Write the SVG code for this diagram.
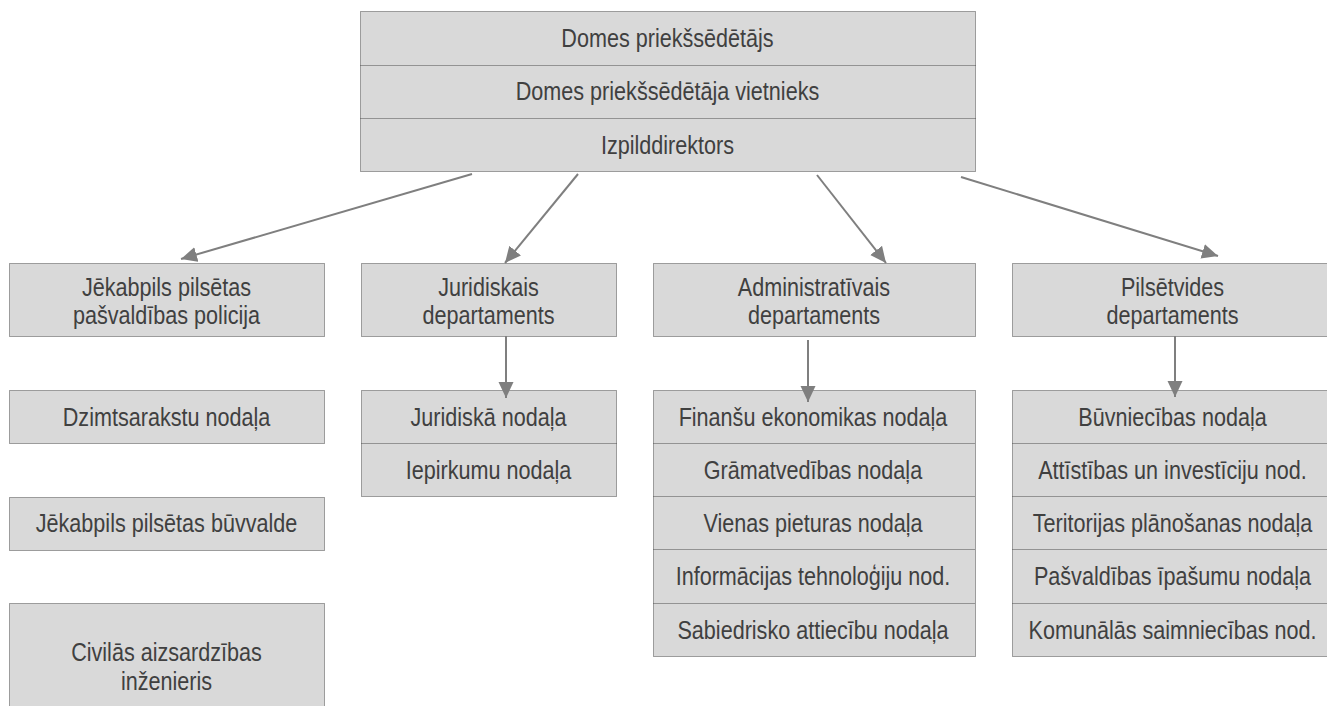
<svg xmlns="http://www.w3.org/2000/svg" width="1327" height="706" viewBox="0 0 1327 706">
<style>
.box{fill:#d9d9d9;stroke:#4d4d4d;stroke-width:1;stroke-dasharray:1 1}
.sep{stroke:#4d4d4d;stroke-width:1;stroke-dasharray:1 1;fill:none}
.t{font-family:"Liberation Sans",Arial,sans-serif;font-size:25.5px;fill:#404040;text-anchor:middle}
.c{stroke:#7f7f7f;stroke-width:2;fill:none;marker-end:url(#ah)}
</style>
<defs>
<marker id="ah" markerUnits="userSpaceOnUse" markerWidth="18" markerHeight="16" refX="16" refY="7.5" orient="auto" viewBox="0 0 18 16">
<path d="M0,0 L16,7.5 L0,15 z" fill="#7f7f7f"/>
</marker>
</defs>
<rect width="1327" height="706" fill="#fff"/>

<g id="top">
<rect class="box" x="360.5" y="11.5" width="615" height="160"/>
<line class="sep" x1="360.5" y1="65.5" x2="975.5" y2="65.5"/>
<line class="sep" x1="360.5" y1="118.5" x2="975.5" y2="118.5"/>
<text class="t" transform="translate(667.5,47) scale(0.847,1)">Domes priekšsēdētājs</text>
<text class="t" transform="translate(667.5,100) scale(0.847,1)">Domes priekšsēdētāja vietnieks</text>
<text class="t" transform="translate(667.5,154) scale(0.847,1)">Izpilddirektors</text>
</g>

<g id="policija">
<rect class="box" x="9.5" y="263.5" width="315" height="73"/>
<text class="t" transform="translate(166.5,296) scale(0.847,1)">Jēkabpils pilsētas</text>
<text class="t" transform="translate(166.5,324) scale(0.847,1)">pašvaldības policija</text>
</g>

<g id="juridiskais">
<rect class="box" x="361.5" y="263.5" width="255" height="73"/>
<text class="t" transform="translate(488.5,296) scale(0.847,1)">Juridiskais</text>
<text class="t" transform="translate(488.5,324) scale(0.847,1)">departaments</text>
</g>

<g id="administrativais">
<rect class="box" x="653.5" y="263.5" width="322" height="73"/>
<text class="t" transform="translate(814,296) scale(0.847,1)">Administratīvais</text>
<text class="t" transform="translate(814,324) scale(0.847,1)">departaments</text>
</g>

<g id="pilsetvides">
<rect class="box" x="1012.5" y="263.5" width="321" height="73"/>
<text class="t" transform="translate(1172.5,296) scale(0.847,1)">Pilsētvides</text>
<text class="t" transform="translate(1172.5,324) scale(0.847,1)">departaments</text>
</g>

<g id="dzimtsarakstu">
<rect class="box" x="9.5" y="390.5" width="315" height="53"/>
<text class="t" transform="translate(166.5,426) scale(0.847,1)">Dzimtsarakstu nodaļa</text>
</g>

<g id="buvvalde">
<rect class="box" x="9.5" y="497.5" width="315" height="53"/>
<text class="t" transform="translate(166.5,532) scale(0.847,1)">Jēkabpils pilsētas būvvalde</text>
</g>

<g id="civilas">
<rect class="box" x="9.5" y="603.5" width="315" height="120"/>
<text class="t" transform="translate(166.5,661) scale(0.847,1)">Civilās aizsardzības</text>
<text class="t" transform="translate(166.5,690) scale(0.847,1)">inženieris</text>
</g>

<g id="juridiskas-nodalas">
<rect class="box" x="361.5" y="390.5" width="255" height="106"/>
<line class="sep" x1="361.5" y1="443.5" x2="616.5" y2="443.5"/>
<text class="t" transform="translate(488.5,426) scale(0.847,1)">Juridiskā nodaļa</text>
<text class="t" transform="translate(488.5,479) scale(0.847,1)">Iepirkumu nodaļa</text>
</g>

<g id="administrativas-nodalas">
<rect class="box" x="653.5" y="390.5" width="322" height="266"/>
<line class="sep" x1="653.5" y1="443.5" x2="975.5" y2="443.5"/>
<line class="sep" x1="653.5" y1="496.5" x2="975.5" y2="496.5"/>
<line class="sep" x1="653.5" y1="549.5" x2="975.5" y2="549.5"/>
<line class="sep" x1="653.5" y1="603.5" x2="975.5" y2="603.5"/>
<text class="t" transform="translate(813,426) scale(0.847,1)">Finanšu ekonomikas nodaļa</text>
<text class="t" transform="translate(813,479) scale(0.847,1)">Grāmatvedības nodaļa</text>
<text class="t" transform="translate(813,532) scale(0.847,1)">Vienas pieturas nodaļa</text>
<text class="t" transform="translate(813,585) scale(0.847,1)">Informācijas tehnoloģiju nod.</text>
<text class="t" transform="translate(813,639) scale(0.847,1)">Sabiedrisko attiecību nodaļa</text>
</g>

<g id="pilsetvides-nodalas">
<rect class="box" x="1012.5" y="390.5" width="321" height="266"/>
<line class="sep" x1="1012.5" y1="443.5" x2="1333" y2="443.5"/>
<line class="sep" x1="1012.5" y1="496.5" x2="1333" y2="496.5"/>
<line class="sep" x1="1012.5" y1="549.5" x2="1333" y2="549.5"/>
<line class="sep" x1="1012.5" y1="603.5" x2="1333" y2="603.5"/>
<text class="t" transform="translate(1172.5,426) scale(0.847,1)">Būvniecības nodaļa</text>
<text class="t" transform="translate(1172.5,479) scale(0.847,1)">Attīstības un investīciju nod.</text>
<text class="t" transform="translate(1172.5,532) scale(0.847,1)">Teritorijas plānošanas nodaļa</text>
<text class="t" transform="translate(1172.5,585) scale(0.847,1)">Pašvaldības īpašumu nodaļa</text>
<text class="t" transform="translate(1172.5,639) scale(0.847,1)">Komunālās saimniecības nod.</text>
</g>

<g id="connectors">
<line class="c" x1="472" y1="174" x2="181" y2="259"/>
<line class="c" x1="578" y1="174" x2="505" y2="263"/>
<line class="c" x1="817" y1="175" x2="886" y2="263"/>
<line class="c" x1="961" y1="177" x2="1218" y2="256"/>
<line class="c" x1="506" y1="336" x2="506" y2="398"/>
<line class="c" x1="808" y1="340" x2="808" y2="402"/>
<line class="c" x1="1175" y1="336" x2="1175" y2="397"/>
</g>
</svg>
